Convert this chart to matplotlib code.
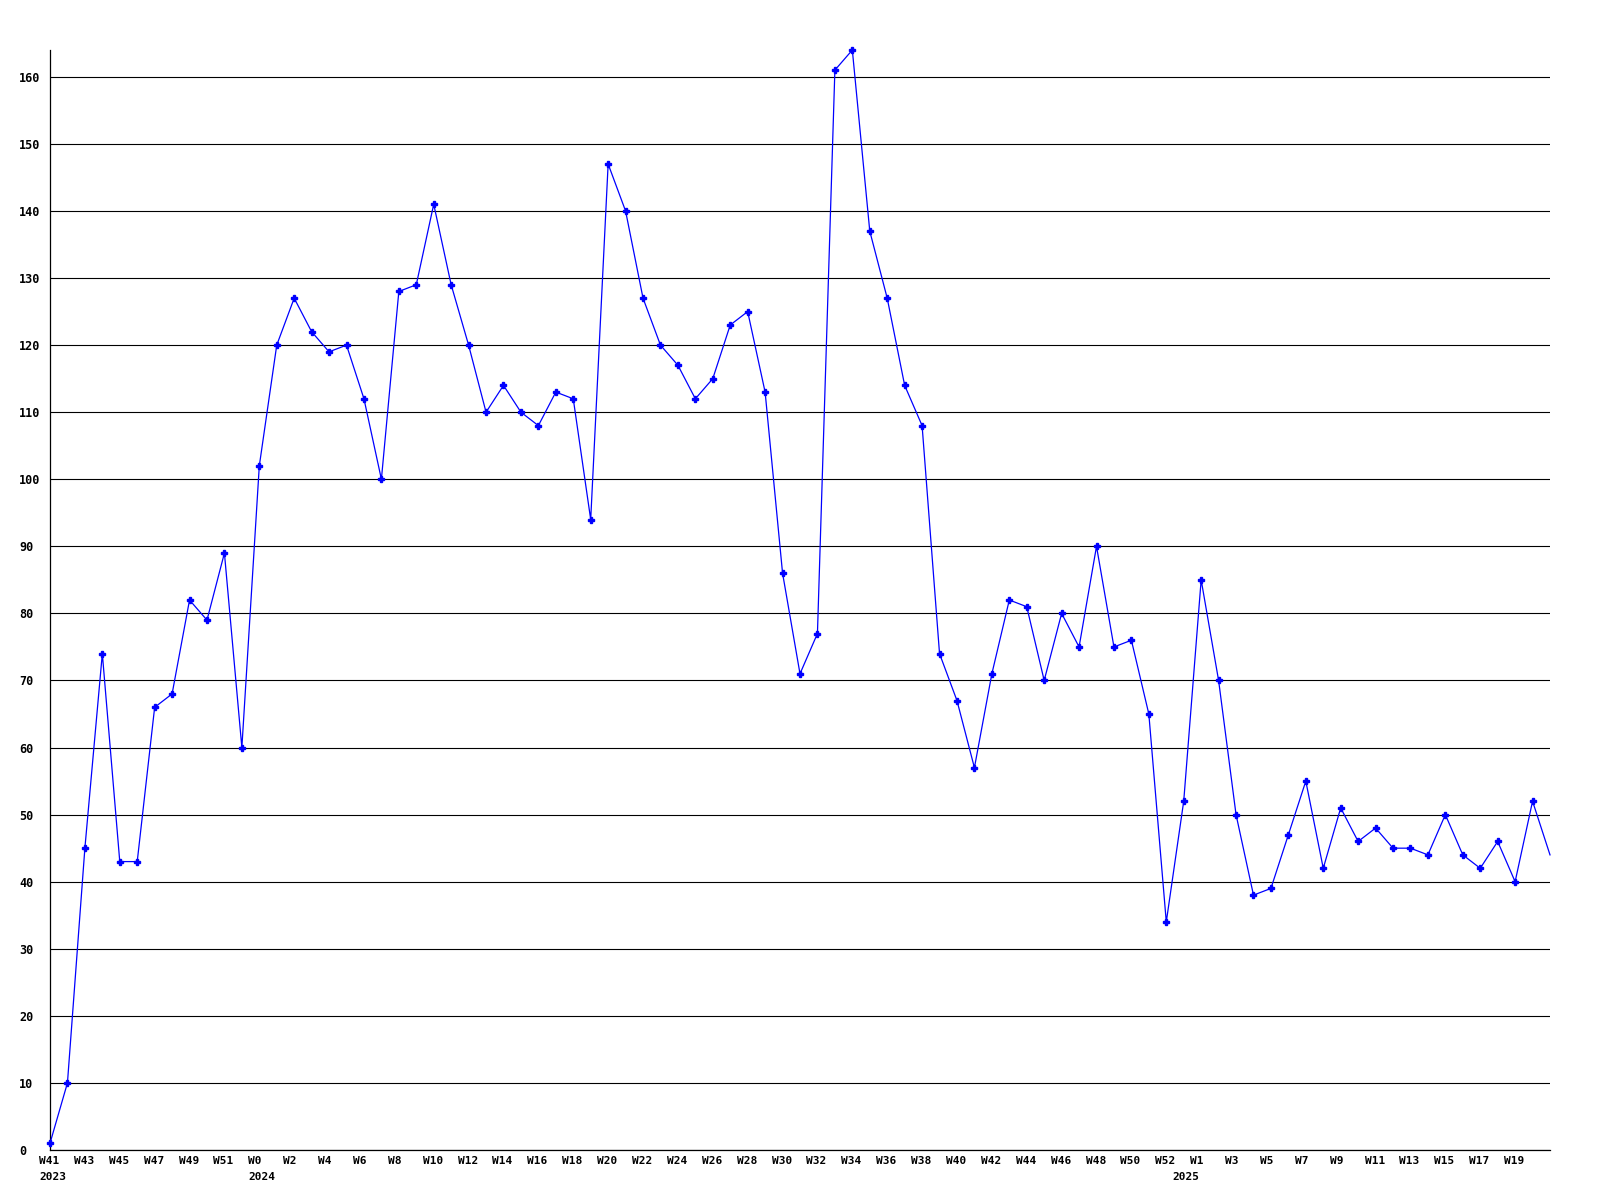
import matplotlib
matplotlib.use("Agg")
import matplotlib.pyplot as plt
from matplotlib.transforms import ScaledTranslation, blended_transform_factory

# ---- data ----
weeks_2023 = [f"W{w}" for w in range(41, 53)]          # W41..W52
weeks_2024 = [f"W{w}" for w in range(0, 53)]           # W0..W52
weeks_2025 = [f"W{w}" for w in range(0, 22)]           # W0..W21

values_2023 = [1, 10, 45, 74, 43, 43, 66, 68, 82, 79, 89, 60]
values_2024 = [102, 120, 127, 122, 119, 120, 112, 100, 128, 129, 141, 129, 120,
               110, 114, 110, 108, 113, 112, 94, 147, 140, 127, 120, 117, 112,
               115, 123, 125, 113, 86, 71, 77, 161, 164, 137, 127, 114, 108, 74,
               67, 57, 71, 82, 81, 70, 80, 75, 90, 75, 76, 65, 34]
values_2025 = [52, 85, 70, 50, 38, 39, 47, 55, 42, 51, 46, 48, 45, 45, 44, 50,
               44, 42, 46, 40, 52, 44]

years = ["2023", "2024", "2025"]
y_ticks = list(range(0, 161, 10))

week_labels = weeks_2023 + weeks_2024 + weeks_2025
values = values_2023 + values_2024 + values_2025
x = list(range(len(values)))
year_starts = [0, len(weeks_2023), len(weeks_2023) + len(weeks_2024)]

tick_pos = list(range(0, len(values) - 1, 2))
tick_lbl = [week_labels[i] for i in tick_pos]

# ---- plot ----
FONT = "DejaVu Sans Mono"
fig = plt.figure(figsize=(16, 12), dpi=100)
ax = fig.add_axes([50 / 1600, 50 / 1200, 1500 / 1600, 1100 / 1200])
ax.set_xlim(0, len(values) - 1)
ax.set_ylim(0, 164)

ax.set_axisbelow(True)
ax.yaxis.grid(True, color="black", linewidth=0.8)
ax.xaxis.grid(False)
for s in ["top", "right"]:
    ax.spines[s].set_visible(False)
for s in ["left", "bottom"]:
    ax.spines[s].set_color("black")
    ax.spines[s].set_linewidth(0.9)

ax.plot(x, values, color="#0000ff", linewidth=0.9, marker="P", markersize=3.8,
        markevery=list(range(len(values) - 1)), clip_on=False, zorder=3)

# y ticks
ax.set_yticks(y_ticks)
ax.set_yticklabels([str(v) for v in y_ticks], fontfamily=FONT,
                   fontweight="bold", fontsize=8.5)
ax.tick_params(axis="y", length=0, pad=22.3)
for lbl in ax.get_yticklabels():
    lbl.set_ha("left")

# x ticks
ax.set_xticks(tick_pos)
ax.set_xticklabels(tick_lbl, fontfamily=FONT, fontweight="bold", fontsize=8)
ax.tick_params(axis="x", length=0, pad=7.9)
off = ScaledTranslation(-11 / 100, 0, fig.dpi_scale_trans)
for lbl in ax.get_xticklabels():
    lbl.set_ha("left")
    lbl.set_va("center")
    lbl.set_transform(lbl.get_transform() + off)

# year labels
trans = blended_transform_factory(ax.transData, ax.transAxes) + \
    ScaledTranslation(-11 / 100, -27 / 100, fig.dpi_scale_trans)
for xi, yr in zip(year_starts, years):
    ax.text(xi, 0, yr, transform=trans, ha="left", va="center",
            fontfamily=FONT, fontweight="bold", fontsize=8)

fig.savefig("out.png", dpi=100, facecolor="white")
